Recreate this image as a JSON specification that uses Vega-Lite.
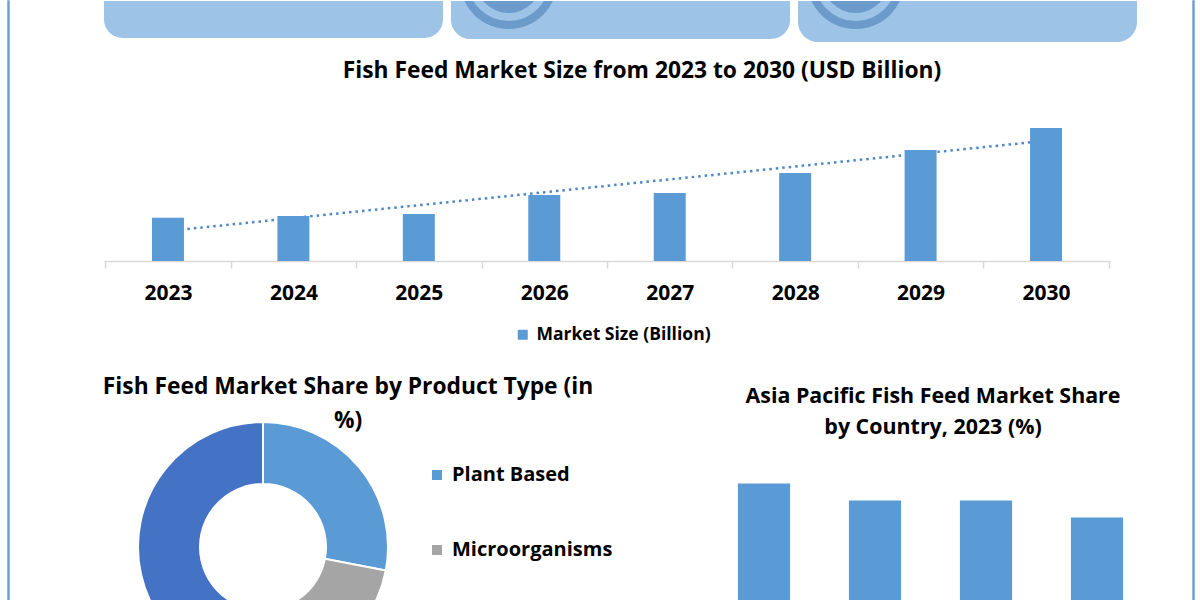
{
  "$schema": "https://vega.github.io/schema/vega-lite/v6.json",
  "background": "white",
  "padding": {"left": 7, "top": 0, "right": 0, "bottom": 0},
  "bounds": "flush",
  "spacing": 95,
  "config": {
    "view": {"stroke": null},
    "font": "Open Sans",
    "title": {"font": "Open Sans", "fontWeight": "bold", "color": "#000000", "anchor": "middle", "frame": "group"},
    "legend": {"labelFont": "Open Sans", "labelFontWeight": "bold", "labelColor": "#000000", "symbolType": "square", "symbolStrokeWidth": 0, "padding": 0, "labelLimit": 400}
  },
  "datasets": {
    "frame": [{"edge": "frame"}],
    "boxes": [{"box": "1", "h": 37}, {"box": "2", "h": 38}, {"box": "3", "h": 41}],
    "icons": [{"box": "2"}, {"box": "3"}],
    "market": [
      {"year": 2023, "value": 43.3},
      {"year": 2024, "value": 45},
      {"year": 2025, "value": 47},
      {"year": 2026, "value": 66},
      {"year": 2027, "value": 68},
      {"year": 2028, "value": 88},
      {"year": 2029, "value": 111},
      {"year": 2030, "value": 133}
    ],
    "product": [
      {"type": "Plant Based", "share": 28, "ord": 1},
      {"type": "Microorganisms", "share": 15, "ord": 2},
      {"type": "Animal Based", "share": 57, "ord": 3}
    ],
    "country": [
      {"country": "China", "share": 30},
      {"country": "India", "share": 26},
      {"country": "Vietnam", "share": 26},
      {"country": "Indonesia", "share": 22}
    ]
  },
  "hconcat": [
    {
      "width": 1,
      "height": 610,
      "view": {"stroke": "#6f9fd2", "strokeWidth": 1.5, "fill": "#6f9fd2"},
      "data": {"name": "frame"},
      "mark": {"type": "point", "opacity": 0, "size": 0},
      "encoding": {}
    },
    {
      "bounds": "flush",
      "spacing": 1089,
      "hconcat": [
        {
          "bounds": "flush",
          "spacing": 0,
          "resolve": {"scale": {"color": "independent"}, "legend": {"color": "independent"}},
          "vconcat": [
            {
              "width": 1033,
              "height": 41,
              "layer": [
                {
                  "data": {"name": "boxes"},
                  "mark": {"type": "bar", "color": "#9dc3e6", "cornerRadiusBottomLeft": 20, "cornerRadiusBottomRight": 20},
                  "encoding": {
                    "x": {"field": "box", "type": "nominal", "axis": null, "scale": {"paddingInner": 0.023, "paddingOuter": 0}},
                    "y": {"field": "h", "type": "quantitative", "axis": null, "scale": {"domain": [0, 41], "reverse": true, "nice": false, "zero": false}}
                  }
                },
                {
                  "data": {"name": "icons"},
                  "mark": {"type": "point", "filled": true, "shape": "circle", "size": 9604, "color": "#6b9acb", "opacity": 1, "clip": true},
                  "encoding": {
                    "x": {"field": "box", "type": "nominal", "bandPosition": 0.17},
                    "y": {"datum": -21, "type": "quantitative"}
                  }
                },
                {
                  "data": {"name": "icons"},
                  "mark": {"type": "point", "filled": true, "shape": "circle", "size": 6724, "color": "#9dc3e6", "opacity": 1, "clip": true},
                  "encoding": {
                    "x": {"field": "box", "type": "nominal", "bandPosition": 0.17},
                    "y": {"datum": -21, "type": "quantitative"}
                  }
                },
                {
                  "data": {"name": "icons"},
                  "mark": {"type": "point", "filled": true, "shape": "circle", "size": 4356, "color": "#6b9acb", "opacity": 1, "clip": true},
                  "encoding": {
                    "x": {"field": "box", "type": "nominal", "bandPosition": 0.17},
                    "y": {"datum": -21, "type": "quantitative"}
                  }
                }
              ]
            },
            {
              "width": 1006,
              "height": 219,
              "data": {"name": "market"},
              "title": {"text": "Fish Feed Market Size from 2023 to 2030 (USD Billion)", "fontSize": 22.8, "dx": 35, "offset": -41},
              "encoding": {
                "x": {
                  "field": "year",
                  "type": "ordinal",
                  "scale": {"paddingInner": 0, "paddingOuter": 0.01},
                  "axis": {
                    "title": null, "labelAngle": 0, "labelFontSize": 21, "labelFontWeight": "bold", "labelColor": "#000000",
                    "labelFont": "Open Sans", "labelPadding": 14, "domainColor": "#d9d9d9", "domainWidth": 1.5,
                    "tickColor": "#d9d9d9", "tickWidth": 1.5, "tickSize": 7, "tickBand": "extent"
                  }
                },
                "y": {"field": "value", "type": "quantitative", "axis": null, "scale": {"domain": [0, 219], "nice": false}}
              },
              "layer": [
                {
                  "transform": [{"regression": "value", "on": "year"}],
                  "mark": {"type": "line", "color": "#4f87c6", "strokeWidth": 2.5, "strokeDash": [2.5, 4]}
                },
                {
                  "mark": {"type": "bar", "color": "#5b9bd5", "width": {"band": 0.255}},
                  "encoding": {
                    "color": {
                      "datum": "Market Size (Billion)",
                      "scale": {"range": ["#5b9bd5"]},
                      "legend": {"orient": "none", "legendX": 410, "legendY": 284, "title": null, "labelFontSize": 17.5, "symbolSize": 100, "labelOffset": 5}
                    }
                  }
                }
              ]
            },
            {
              "hconcat": [
                {
                  "width": 318,
                  "height": 572,
                  "data": {"name": "product"},
                  "title": {"text": ["Fish Feed  Market Share by Product Type (in", "%)"], "fontSize": 22.8, "lineHeight": 34, "dx": 85, "offset": -171.5},
                  "mark": {"type": "arc", "innerRadius": 63, "outerRadius": 125, "stroke": "white", "strokeWidth": 2},
                  "encoding": {
                    "theta": {"field": "share", "type": "quantitative", "stack": true},
                    "order": {"field": "ord", "type": "quantitative"},
                    "color": {
                      "field": "type",
                      "type": "nominal",
                      "scale": {"domain": ["Plant Based", "Microorganisms", "Animal Based"], "range": ["#5b9bd5", "#a5a5a5", "#4472c4"]},
                      "legend": {"orient": "none", "legendX": 323, "legendY": 204, "title": null, "labelFontSize": 20, "symbolSize": 100, "rowPadding": 55, "labelOffset": 5, "values": ["Plant Based", "Microorganisms"]}
                    }
                  }
                },
                {
                  "width": 444,
                  "height": 350,
                  "data": {"name": "country"},
                  "title": {"text": ["Asia Pacific Fish Feed Market  Share", "by Country, 2023 (%)"], "fontSize": 21.4, "lineHeight": 31, "dx": 2.5, "offset": -177},
                  "mark": {"type": "bar", "color": "#5b9bd5"},
                  "encoding": {
                    "x": {"field": "country", "type": "nominal", "sort": null, "axis": null, "scale": {"paddingInner": 0.53, "paddingOuter": 0.265}},
                    "y": {"field": "share", "type": "quantitative", "axis": null, "scale": {"domain": [0, 82.353], "nice": false}}
                  }
                }
              ],
              "bounds": "flush",
              "spacing": 286.5
            }
          ]
        },
        {
          "width": 1,
          "height": 610,
          "view": {"stroke": "#6f9fd2", "strokeWidth": 1.5, "fill": "#6f9fd2"},
          "data": {"name": "frame"},
          "mark": {"type": "point", "opacity": 0, "size": 0},
          "encoding": {}
        }
      ]
    }
  ]
}
